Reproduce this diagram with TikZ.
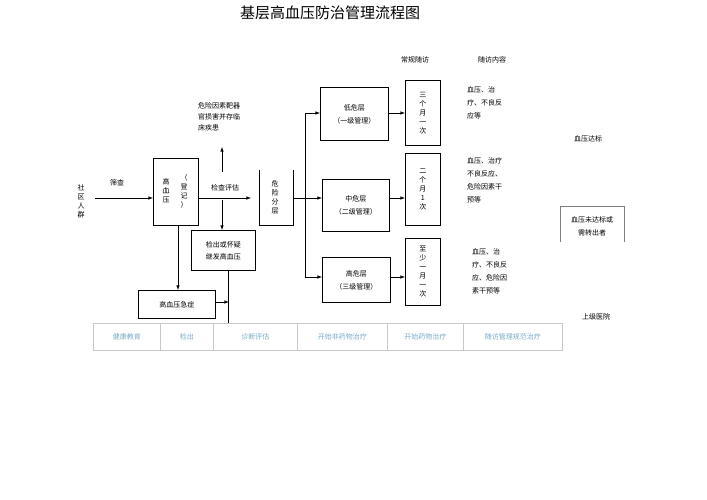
\documentclass[tikz,border=0pt]{standalone}
\usepackage{fontspec}
\newfontfamily\cjk{Noto Sans CJK SC}
\definecolor{celltext}{RGB}{120,170,200}
\definecolor{cellline}{RGB}{200,200,200}
\begin{document}
\begin{tikzpicture}[x=1pt,y=-1pt,font=\cjk\fontsize{7}{9}\selectfont,
  bx/.style={draw,line width=0.8pt,inner sep=0pt},
  ar/.style={-latex,line width=0.6pt},
  ln/.style={line width=0.6pt},
  cell/.style={draw=cellline,line width=0.8pt,minimum height=27pt,inner sep=0pt,text=celltext,anchor=north west},
  txt/.style={inner sep=0pt,align=left}]
\useasboundingbox[fill=white] (0,0) rectangle (707,500);
\node (title) at (330,13) {\fontsize{15}{17}\selectfont 基层高血压防治管理流程图};
\node[txt] (h1) at (415,60) {常规随访};
\node[txt] (h2) at (492,60) {随访内容};
\node[txt,align=center] (sq) at (81,201) {社\\区\\人\\群};
\node[txt] (sc) at (117,183) {筛查};
\node[bx,minimum width=45pt,minimum height=67pt,anchor=north west] (hb) at (153,158) {};
\node[txt,align=center] (hbt) at (166,191) {高\\血\\压};
\node[txt,align=center] (hbd) at (184,191) {（\\登\\记\\）};
\coordinate (s0) at (95,198);
\draw[ar] (s0) -- (hb.west|-s0);
\coordinate (e) at (251,198);
\draw[ar] (hb.east|-s0) -- (e);
\node[txt] (jc) at (225,188) {检查评估};
\node[txt,align=left] (risk) at (219,117) {危险因素靶器\\[2pt]官损害并存临\\[2pt]床疾患};
\coordinate (up) at (222,147);
\coordinate (upb) at (222,172);
\draw[ar] (upb) -- (up);
\node[bx,minimum width=64pt,minimum height=40pt,anchor=north west,align=center] (jx) at (191,230) {检出或怀疑\\[3pt]继发高血压};
\coordinate (dn) at (222,200);
\draw[ar] (dn) -- (jx.north-|dn);
\draw[ln] (259,170) -- (259,225) -- (293,225) -- (293,170);
\node[txt,align=center] (wf) at (275,197) {危\\险\\分\\层};
\coordinate (br) at (305,198);
\coordinate (bt) at (305,113);
\coordinate (bb) at (305,277);
\draw[ln] (293,198) -- (br);
\node[bx,minimum width=68pt,minimum height=53pt,anchor=north west,align=center] (low) at (320,87) {低危层\\[4pt]（一级管理）};
\node[bx,minimum width=67pt,minimum height=52pt,anchor=north west,align=center] (mid) at (322,179) {中危层\\[4pt]（二级管理）};
\node[bx,minimum width=68pt,minimum height=45pt,anchor=north west,align=center] (high) at (322,257) {高危层\\[4pt]（三级管理）};
\draw[ln] (bt) -- (bb);
\draw[ar] (bt) -- (low.west|-bt);
\draw[ar] (br) -- (mid.west|-br);
\draw[ar] (bb) -- (high.west|-bb);
\node[bx,minimum width=35pt,minimum height=65pt,anchor=north west,align=center] (f1) at (405,80) {三\\个\\月\\一\\次};
\node[bx,minimum width=35pt,minimum height=72pt,anchor=north west,align=center] (f2) at (405,153) {二\\个\\月\\1\\次};
\node[bx,minimum width=35pt,minimum height=67pt,anchor=north west,align=center] (f3) at (405,238) {至\\少\\一\\月\\一\\次};
\draw[ar] (low.east|-bt) -- (f1.west|-bt);
\draw[ar] (mid.east|-br) -- (f2.west|-br);
\draw[ar] (high.east|-bb) -- (f3.west|-bb);
\node[txt,anchor=north west] (c1) at (467,86) {血压、治\\[4pt]疗、不良反\\[4pt]应等};
\node[txt,anchor=north west] (c2) at (467,157) {血压、治疗\\[4pt]不良反应、\\[4pt]危险因素干\\[4pt]预等};
\node[txt,anchor=north west] (c3) at (472,248) {血压、治\\[4pt]疗、不良反\\[4pt]应、危险因\\[4pt]素干预等};
\node[txt] (db) at (588,139) {血压达标};
\draw[ln,gray] (560,242) -- (560,206) -- (624,206) -- (624,242);
\node[txt,align=center] (wd) at (592,226) {血压未达标或\\[4pt]需转出者};
\node[txt] (sj) at (596,317) {上级医院};
\node[bx,minimum width=77pt,minimum height=28pt,anchor=north west] (jz) at (138,290) {高血压急症};
\coordinate (hbb) at (178,225);
\draw[ar] (hbb) -- (jz.north-|hbb);
\coordinate (jze) at (229,302);
\draw[ar] (jz.east|-jze) -- (jze);
\coordinate (bl) at (255,323);
\coordinate (jxb) at (228,270);
\draw[ln] (jxb) -- (228,323) -- (bl);
\node[cell,minimum width=67pt] (b1) at (93,323) {健康教育};
\node[cell,minimum width=53pt] (b2) at (160,323) {检出};
\node[cell,minimum width=84pt] (b3) at (213,323) {诊断评估};
\node[cell,minimum width=90pt] (b4) at (297,323) {开始非药物治疗};
\node[cell,minimum width=76pt] (b5) at (387,323) {开始药物治疗};
\node[cell,minimum width=99pt] (b6) at (463,323) {随访管理规范治疗};
\end{tikzpicture}
\end{document}
